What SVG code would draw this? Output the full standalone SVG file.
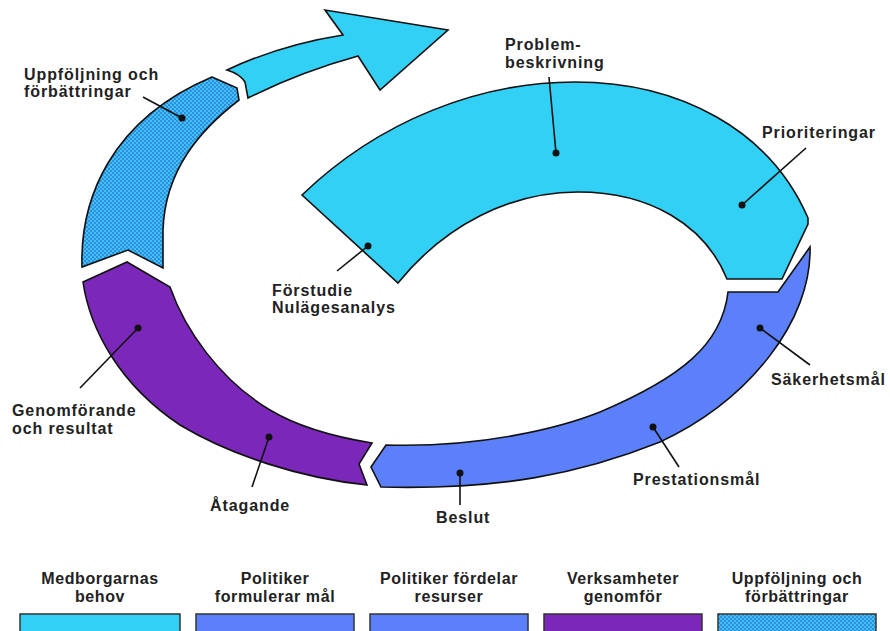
<svg xmlns="http://www.w3.org/2000/svg" width="890" height="631" viewBox="0 0 890 631">
<defs>
<pattern id="hatch" patternUnits="userSpaceOnUse" width="4" height="4">
<rect width="4" height="4" fill="#36c8f3"/>
<circle cx="1" cy="1" r="0.9" fill="#3a68d8"/>
<circle cx="3" cy="3" r="0.9" fill="#3a68d8"/>
</pattern>
<style>
.seg{stroke:#111;stroke-width:1.6;stroke-linejoin:miter}
.cyan{fill:#33d0f6}
.blue{fill:#5c80fa}
.purple{fill:#7b27b9}
.hatch{fill:url(#hatch)}
.lbl{font-family:"Liberation Sans",Arial,sans-serif;font-size:16px;font-weight:bold;fill:#222;letter-spacing:0.9px}
.leg{font-family:"Liberation Sans",Arial,sans-serif;font-size:16px;font-weight:bold;fill:#222;letter-spacing:0.6px;text-anchor:middle}
.lead{stroke:#111;stroke-width:1.6;fill:none}
.dot{fill:#111}
.box{stroke:#333;stroke-width:1.5}
</style>
</defs>
<rect width="890" height="631" fill="#fff"/>

<g id="arrow">
<path class="seg cyan" d="M227,70 Q240,74 245,82 L248,98 Q300,72 358,56 L380,90 L448,30 L325,10 L343,35 Q280,45 227,70 Z"/>
</g>

<g id="uppfoljning">
<path class="seg hatch" d="M212,77 L237,88 L239,100 C200,130 165,170 163,230 L163,268 L128,250 L82,267 C80,200 110,120 212,77 Z"/>
<text class="lbl" x="24" y="80">Uppföljning och</text>
<text class="lbl" x="24" y="97">förbättringar</text>
</g>

<g id="medborgarnas">
<path class="seg cyan" d="M302,195 C380,120 480,82 575,82 C680,82 770,130 808,218 L808,224 L782,279 L727,279 C705,225 650,192 578,192 C510,192 445,225 398,283 Z"/>
<text class="lbl" x="505" y="50">Problem-</text>
<text class="lbl" x="505" y="68">beskrivning</text>
<text class="lbl" x="762" y="138">Prioriteringar</text>
<text class="lbl" x="272" y="296">Förstudie</text>
<text class="lbl" x="272" y="313">Nulägesanalys</text>
</g>

<g id="politiker">
<path class="seg blue" d="M371,467 L386,445 C480,448 560,428 600,412 C680,378 722,345 728,292 L778,292 L810,247 C812,320 750,400 660,442 C580,474 500,490 381,487 Z"/>
<text class="lbl" x="771" y="385">Säkerhetsmål</text>
<text class="lbl" x="633" y="485">Prestationsmål</text>
<text class="lbl" x="436" y="523">Beslut</text>
</g>

<g id="verksamheter">
<path class="seg purple" d="M83,282 L127,262 L170,287 C185,330 220,380 270,410 C300,428 335,437 372,443 L359,464 L367,485 C300,478 230,455 180,425 C120,385 90,330 83,282 Z"/>
<text class="lbl" x="12" y="416">Genomförande</text>
<text class="lbl" x="12" y="434">och resultat</text>
<text class="lbl" x="210" y="511">Åtagande</text>
</g>

<g id="connectors">
<line class="lead" x1="143" y1="97" x2="182" y2="118"/>
<circle class="dot" cx="182" cy="118" r="3.5"/>
<line class="lead" x1="549" y1="77" x2="556" y2="153"/>
<circle class="dot" cx="556" cy="153" r="3.5"/>
<line class="lead" x1="806" y1="148" x2="742" y2="205"/>
<circle class="dot" cx="742" cy="205" r="3.5"/>
<line class="lead" x1="337" y1="271" x2="368" y2="246"/>
<circle class="dot" cx="368" cy="246" r="3.5"/>
<line class="lead" x1="80" y1="388" x2="138" y2="328"/>
<circle class="dot" cx="138" cy="328" r="3.5"/>
<line class="lead" x1="252" y1="487" x2="269" y2="437"/>
<circle class="dot" cx="269" cy="437" r="3.5"/>
<line class="lead" x1="460" y1="505" x2="460" y2="473"/>
<circle class="dot" cx="460" cy="473" r="3.5"/>
<line class="lead" x1="679" y1="467" x2="653" y2="427"/>
<circle class="dot" cx="653" cy="427" r="3.5"/>
<line class="lead" x1="810" y1="365" x2="760" y2="328"/>
<circle class="dot" cx="760" cy="328" r="3.5"/>
</g>

<g id="legend">
<g id="leg1">
<text class="leg" x="100" y="584">Medborgarnas</text>
<text class="leg" x="100" y="602">behov</text>
<rect class="box cyan" x="20" y="614" width="160" height="24"/>
</g>
<g id="leg2">
<text class="leg" x="275" y="584">Politiker</text>
<text class="leg" x="275" y="602">formulerar mål</text>
<rect class="box blue" x="196" y="614" width="158" height="24"/>
</g>
<g id="leg3">
<text class="leg" x="449" y="584">Politiker fördelar</text>
<text class="leg" x="449" y="602">resurser</text>
<rect class="box blue" x="370" y="614" width="158" height="24"/>
</g>
<g id="leg4">
<text class="leg" x="623" y="584">Verksamheter</text>
<text class="leg" x="623" y="602">genomför</text>
<rect class="box purple" x="544" y="614" width="158" height="24"/>
</g>
<g id="leg5">
<text class="leg" x="797" y="584">Uppföljning och</text>
<text class="leg" x="797" y="602">förbättringar</text>
<rect class="box hatch" x="718" y="614" width="158" height="24"/>
</g>
</g>
</svg>
